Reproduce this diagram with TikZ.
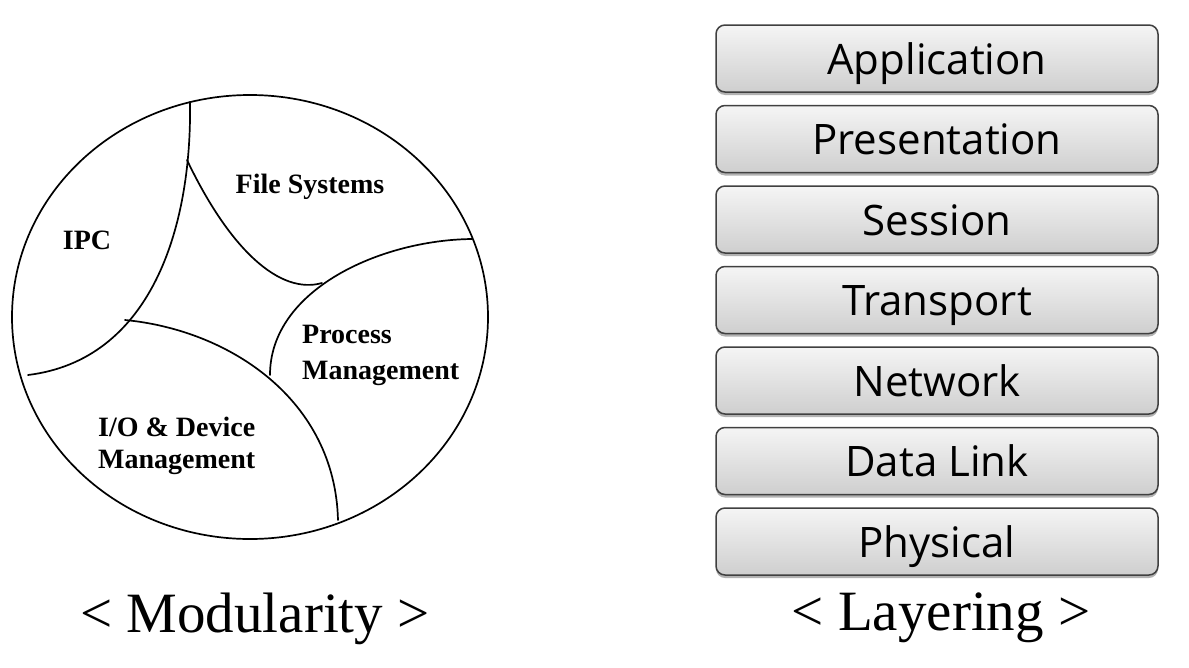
\documentclass[tikz,border=0pt]{standalone}
\usepackage{fontspec}
\setmainfont{Liberation Serif}
\newfontfamily\uifont{Open Sans}
\usetikzlibrary{shadows}
\begin{document}
\begin{tikzpicture}[x=1pt,y=-1pt,
  part/.style={line width=1.7pt, line cap=round},
  modlabel/.style={font=\fontsize{28}{30}\selectfont\bfseries, inner sep=0pt, align=left},
  layer/.style={draw=black!75, line width=1.5pt, rounded corners=9pt,
    minimum width=442pt, minimum height=67pt, inner sep=0pt,
    text height=31pt, text depth=0pt,
    top color=gray!8, bottom color=gray!38,
    font=\uifont\fontsize{42}{48}\selectfont,
    drop shadow={shadow xshift=0pt, shadow yshift=-3pt, opacity=0.3, fill=black}},
  caption/.style={font=\fontsize{57}{60}\selectfont, inner sep=0pt}]
\useasboundingbox (0,0) rectangle (1189,667);
\fill[white] (0,0) rectangle (1189,667);

% Modularity circle
\draw[part] (250,317) ellipse [x radius=238, y radius=222];
\draw[part] (190,102) .. controls (192,230) and (150,360) .. (28,375);
\draw[part] (187,160) .. controls (230,250) and (280,295) .. (322,283);
\draw[part] (472,239) .. controls (380,240) and (270,290) .. (270,375);
\draw[part] (125,320) .. controls (230,330) and (335,400) .. (338,520);

\node[modlabel] (fs) at (310,187) {File Systems};
\node[modlabel] (ipc) at (87,240) {IPC};
\node[modlabel, anchor=west, font=\fontsize{28}{36}\selectfont\bfseries] (pm) at (302,355) {Process\\Management};
\node[modlabel, anchor=west, font=\fontsize{28}{32}\selectfont\bfseries] (io) at (98,446) {I/O \& Device\\Management};

\node[caption, anchor=base] (modcap) at (255,632) {< Modularity >};

% Layering stack
\node[layer] (app)  at (937,58.5)  {Application};
\node[layer] (pres) at (937,139)   {Presentation};
\node[layer] (sess) at (937,219.5) {Session};
\node[layer] (trans) at (937,300)  {Transport};
\node[layer] (net)  at (937,380.5) {Network};
\node[layer] (dl)   at (937,461)   {Data Link};
\node[layer] (phy)  at (937,541.5) {Physical};

\node[caption, anchor=base] (laycap) at (941,630) {< Layering >};
\end{tikzpicture}
\end{document}
